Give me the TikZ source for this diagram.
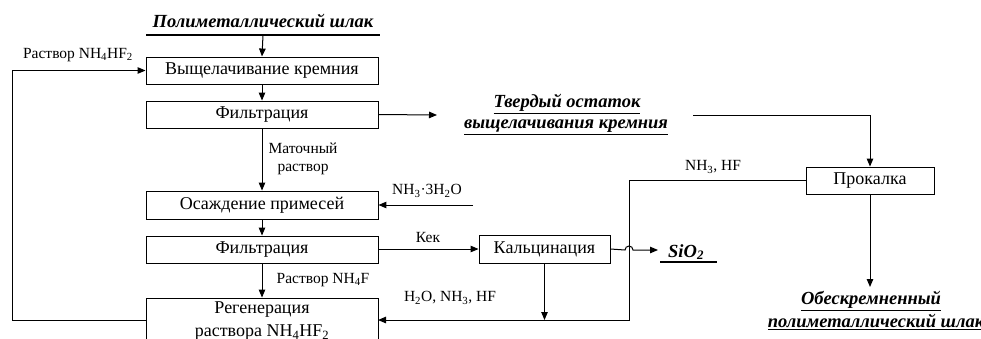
\documentclass[tikz,border=0pt]{standalone}
\usepackage{fontspec}
\setmainfont{Liberation Serif}
\usetikzlibrary{arrows.meta}
\newcommand\sbs[1]{\textsubscript{#1}}
\begin{document}
\begin{tikzpicture}[x=1pt,y=-1pt,
  proc/.style={draw,line width=0.9pt,font=\fontsize{18}{23}\selectfont,align=center,inner sep=0pt},
  lbl/.style={font=\fontsize{15.5}{18}\selectfont,inner sep=0pt,align=center},
  prod/.style={font=\fontsize{18.5}{22}\selectfont\bfseries\itshape,inner sep=0pt},
  arr/.style={line width=1pt,-{Triangle[length=8pt,width=6.5pt]}},
  ln/.style={line width=1pt}]
\useasboundingbox (0,0) rectangle (981,338);
\clip (0,0) rectangle (981,338);
% title
\node[prod] (title) at (263,21) {Полиметаллический шлак};
\coordinate (tlL) at (146,35);
\coordinate (tlR) at (380,35);
\coordinate (tl) at (263,35);
\draw[line width=2.6pt] (tlL) -- (tlR);
% boxes
\node[proc,minimum width=232pt,minimum height=27pt] (b1) at (262,70.5) {Выщелачивание кремния};
\node[proc,minimum width=232pt,minimum height=27pt] (b2) at (262,114.5) {Фильтрация};
\node[proc,minimum width=232pt,minimum height=28pt] (b3) at (262,205) {Осаждение примесей};
\node[proc,minimum width=232pt,minimum height=27pt] (b4) at (262,249.5) {Фильтрация};
\node[proc,minimum width=232pt,minimum height=46pt] (b5) at (262,321) {Регенерация\\раствора NH\sbs{4}HF\sbs{2}};
\node[proc,minimum width=131pt,minimum height=28pt] (kc) at (544.5,249) {Кальцинация};
\node[proc,minimum width=128pt,minimum height=27pt] (pk) at (870,180.5) {Прокалка};
% products
\node[prod] (tv1) at (567,104) {\underline{Твердый остаток}};
\node[prod] (tv2) at (566,127) {\underline{выщелачивания кремния}};
\node[prod,anchor=west] (si) at (668,252) {SiO\textsubscript{2}};
\coordinate (siL) at (660,262);
\coordinate (siR) at (717,262);
\draw[line width=1.8pt] (siL) -- (siR);
\node[prod] (ob1) at (871,301) {\underline{Обескремненный}};
\node[prod] (ob2) at (876,322) {\underline{полиметаллический шлак}};
% labels
\node[lbl] (l1) at (78,55) {Раствор NH\sbs{4}HF\sbs{2}};
\node[lbl] (l2) at (303,159) {Маточный\\раствор};
\node[lbl] (l3) at (427,191) {NH\sbs{3}·3H\sbs{2}O};
\node[lbl] (l4) at (428,237) {Кек};
\node[lbl] (l5) at (323,280) {Раствор NH\sbs{4}F};
\node[lbl] (l6) at (450,298) {H\sbs{2}O, NH\sbs{3}, HF};
\node[lbl] (l7) at (713,167) {NH\sbs{3}, HF};
% coordinates
\coordinate (a1) at (437,115);
\coordinate (a2) at (693,115);
\coordinate (a2c) at (870,115);
\coordinate (n1) at (473,205);
\coordinate (hopA) at (625,250);
\coordinate (siT) at (658,250);
\coordinate (vx1) at (629,180.5);
\coordinate (vx2) at (629,320);
\coordinate (jn) at (544.5,320);
\coordinate (b5e) at (378,320);
\coordinate (b5w) at (146,320);
\coordinate (obT) at (870,287);
\coordinate (lf1) at (12,320);
\coordinate (lf2) at (12,70.5);
% connectors
\draw[arr] (tl) -- (b1.north);
\draw[arr] (b1.south) -- (b2.north);
\draw[arr] (b2.east) -- (a1);
\draw[arr] (a2) -- (a2c) -- (pk.north);
\draw[arr] (b2.south) -- (b3.north);
\draw[arr] (n1) -- (b3.east);
\draw[arr] (b3.south) -- (b4.north);
\draw[arr] (b4.east |- kc.west) -- (kc.west);
\draw[arr] (b4.south) -- (b5.north);
\draw[arr] (kc.east) -- (hopA) arc[start angle=180,end angle=0,radius=4pt] -- (siT);
\draw[arr] (pk.west) -- (vx1) -- (vx2) -- (b5e);
\draw[arr] (kc.south) -- (jn);
\draw[arr] (pk.south) -- (obT);
\draw[arr] (b5w) -- (lf1) -- (lf2) -- (b1.west);
\end{tikzpicture}
\end{document}
